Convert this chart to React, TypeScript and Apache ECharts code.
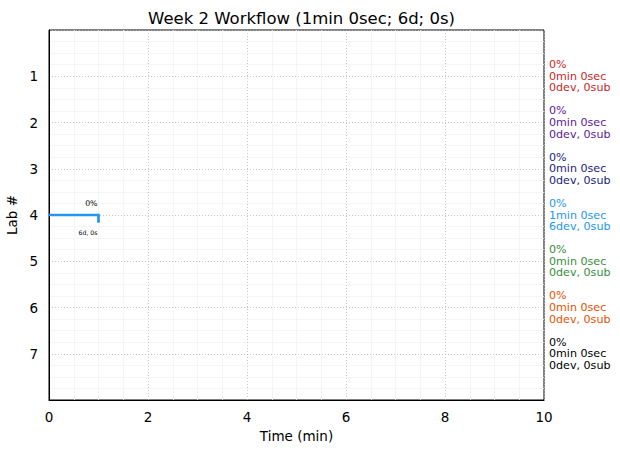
import React, { useEffect, useRef } from "react";
import * as echarts from "echarts";

const labs = [1, 2, 3, 4, 5, 6, 7];
const labTimesMin = [0, 0, 0, 1, 0, 0, 0];
const labTimesSec = [0, 0, 0, 0, 0, 0, 0];
const labDevs = [0, 0, 0, 6, 0, 0, 0];
const labSubs = [0, 0, 0, 0, 0, 0, 0];
const labPct = [0, 0, 0, 0, 0, 0, 0];
const labColors = ["#c62828", "#5e1a96", "#1a237e", "#2196f3", "#388e3c", "#e65100", "#000000"];
const xTicks = [0, 2, 4, 6, 8, 10];
// workflow segment for lab 4: start, end (min), end tick depth
const segLab = 4;
const segStart = 0;
const segEnd = 1;
const segTickDepth = 0.17;
const segPctLabel = "0%";
const segInfoLabel = "6d, 0s";

export default function App() {
  const ref = useRef<HTMLDivElement>(null);
  useEffect(() => {
    const chart = echarts.init(ref.current!, null, { renderer: "svg" });
    const font = "DejaVu Sans";
    const annot = labs.map((lab, i) => ({
      value: [10, lab],
      label: {
        show: true,
        position: "right",
        distance: 5,
        color: labColors[i],
        fontSize: 11.1,
        lineHeight: 11.7,
        fontFamily: font,
        align: "left",
        verticalAlign: "middle",
        formatter: `${labPct[i]}%\n${labTimesMin[i]}min ${labTimesSec[i]}sec\n${labDevs[i]}dev, ${labSubs[i]}sub`,
      },
    }));
    const segColor = labColors[labs.indexOf(segLab)];
    chart.setOption({
      animation: false,
      title: {
        text: "Week 2 Workflow (1min 0sec; 6d; 0s)",
        left: 296.5,
        textAlign: "center",
        top: 5,
        textStyle: { fontFamily: font, fontSize: 16.5, fontWeight: "normal", color: "#000" },
      },
      grid: {
        left: 49,
        top: 30,
        width: 495,
        height: 370,
        show: true,
        borderColor: "#000",
        borderWidth: 1,
        backgroundColor: "transparent",
        outerBoundsMode: "none",
        containLabel: false,
      },
      xAxis: {
        type: "value",
        min: 0,
        max: 10,
        interval: 2,
        name: "Time (min)",
        nameLocation: "middle",
        nameGap: 29,
        nameTextStyle: { fontFamily: font, fontSize: 13.5, color: "#000" },
        axisLine: { show: true, onZero: false, lineStyle: { color: "#000", width: 1 } },
        axisTick: { show: false },
        axisLabel: { fontFamily: font, fontSize: 13.5, color: "#000", margin: 10, formatter: (v: number) => (xTicks.includes(v) ? String(v) : "") },
        splitLine: { show: true, lineStyle: { color: "#b8b8b8", type: [1, 2], width: 0.8 } },
        minorTick: { show: false, splitNumber: 4 },
        minorSplitLine: { show: true, lineStyle: { color: "#f3f3f3", width: 0.8 } },
      },
      yAxis: {
        type: "value",
        min: 0,
        max: 8,
        interval: 1,
        inverse: true,
        name: "Lab #",
        nameLocation: "middle",
        nameGap: 27,
        nameTextStyle: { fontFamily: font, fontSize: 13.5, color: "#000" },
        axisLine: { show: true, onZero: false, lineStyle: { color: "#000", width: 1 } },
        axisTick: { show: false },
        axisLabel: {
          fontFamily: font,
          fontSize: 13.5,
          color: "#000",
          margin: 11,
          formatter: (v: number) => (labs.includes(v) ? String(v) : ""),
        },
        splitLine: {
          show: true,
          lineStyle: { color: "#b8b8b8", type: [1, 2], width: 0.8 },
        },
        minorTick: { show: false, splitNumber: 4 },
        minorSplitLine: { show: true, lineStyle: { color: "#f3f3f3", width: 0.8 } },
      },
      series: [
        {
          type: "line",
          data: [
            [segStart, segLab],
            [segEnd, segLab],
            [segEnd, segLab + segTickDepth],
          ],
          symbol: "none",
          lineStyle: { color: segColor, width: 2.7, join: "miter", cap: "butt" },
          z: 5,
        },
        {
          type: "scatter",
          symbolSize: 0,
          itemStyle: { opacity: 1 },
          data: [
            {
              value: [segEnd, segLab],
              label: {
                show: true,
                position: "left",
                distance: 0,
                offset: [-1, -12],
                formatter: segPctLabel,
                fontSize: 7.8,
                fontFamily: font,
                color: "#000",
              },
            },
            {
              value: [segEnd, segLab],
              label: {
                show: true,
                position: "left",
                distance: 0,
                offset: [-1, 17.5],
                formatter: segInfoLabel,
                fontSize: 6.2,
                fontFamily: font,
                color: "#000",
              },
            },
          ],
          silent: true,
        },
        {
          type: "scatter",
          symbolSize: 0,
          itemStyle: { opacity: 1 },
          data: annot,
          clip: false,
          silent: true,
        },
      ],
    });
    return () => chart.dispose();
  }, []);
  return <div ref={ref} style={{ position: "absolute", left: 0, top: 0, width: 620, height: 453, background: "#fff" }} />;
}
